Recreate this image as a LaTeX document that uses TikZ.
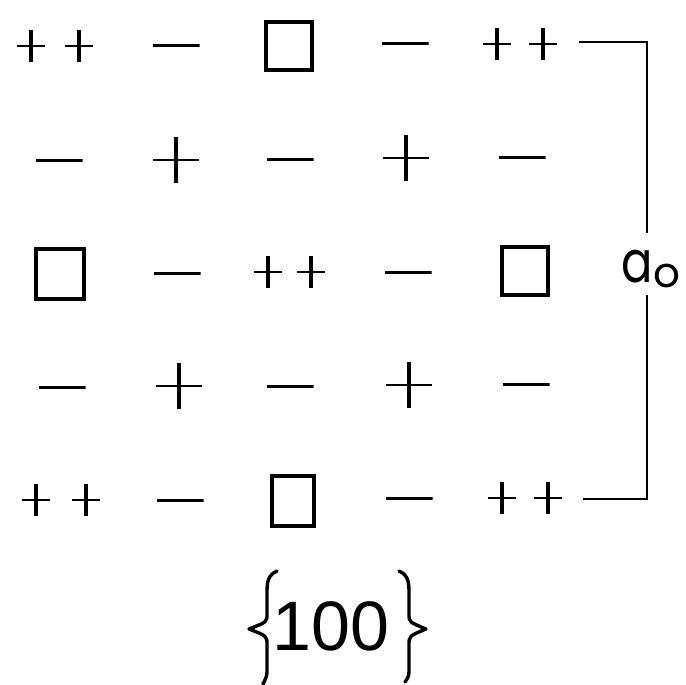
\documentclass[tikz,border=0pt]{standalone}
\usepackage{fontspec}
\setmainfont{Liberation Sans}
\newfontfamily\afont{Poppins}
\begin{document}
\begin{tikzpicture}[x=1pt,y=-1pt,
  plusnode/.style={minimum width=28pt,minimum height=32pt,inner sep=0pt,
    path picture={\draw[line width=4pt] (path picture bounding box.north) -- (path picture bounding box.south);
                  \draw[line width=2.6pt] (path picture bounding box.west) -- (path picture bounding box.east);}},
  bigplus/.style={plusnode,minimum width=46pt,minimum height=46pt},
  minusnode/.style={minimum width=47pt,minimum height=4pt,inner sep=0pt,
    path picture={\draw[line width=3pt] (path picture bounding box.west) -- (path picture bounding box.east);}},
  sqnode/.style={draw,line width=3.4pt,minimum width=46pt,minimum height=48pt,inner sep=0pt},
  lbl/.style={inner sep=0pt},
  brace/.style={line width=3.4pt,line cap=round,line join=round}]
\useasboundingbox (0,0) rectangle (686,685);
% row 1
\node[plusnode] (p11a) at (31,46) {};
\node[plusnode] (p11b) at (79,46) {};
\node[minusnode] (m12) at (176,46) {};
\node[sqnode] (s13) at (289,46) {};
\node[minusnode] (m14) at (405,44) {};
\node[plusnode] (p15a) at (497,44) {};
\node[plusnode] (p15b) at (543,44) {};
% row 2
\node[minusnode] (m21) at (59,160) {};
\node[bigplus] (p22) at (176,160) {};
\node[minusnode] (m23) at (290,159) {};
\node[bigplus] (p24) at (406,158) {};
\node[minusnode] (m25) at (522,157) {};
% row 3
\node[sqnode,minimum width=48pt,minimum height=50pt] (s31) at (60,274) {};
\node[minusnode] (m32) at (177,273) {};
\node[plusnode] (p33a) at (268,272) {};
\node[plusnode] (p33b) at (311,272) {};
\node[minusnode] (m34) at (408,272) {};
\node[sqnode] (s35) at (525,271) {};
% row 4
\node[minusnode] (m41) at (62,387) {};
\node[bigplus] (p42) at (179,386) {};
\node[minusnode] (m43) at (290,386) {};
\node[bigplus] (p44) at (409,385) {};
\node[minusnode] (m45) at (526,384) {};
% row 5
\node[plusnode] (p51a) at (36,500) {};
\node[plusnode] (p51b) at (86,500) {};
\node[minusnode] (m52) at (180,500) {};
\node[sqnode,minimum width=42pt,minimum height=50pt] (s53) at (293,501) {};
\node[minusnode] (m54) at (409,498) {};
\node[plusnode] (p55a) at (502,498) {};
\node[plusnode] (p55b) at (548,498) {};
% lattice constant
\node[lbl,font=\fontsize{58}{58}\selectfont] (a0) at (651,269) {\scalebox{0.8}[1]{\afont a}\raisebox{-5pt}{\fontsize{42}{42}\selectfont\afont o}};
\coordinate (t1) at (579,42);
\coordinate (t2) at (647,42);
\coordinate (b1) at (583,499);
\coordinate (b2) at (647,499);
\draw[line width=2.8pt] (t1) -- (t2) -- (647,233);
\draw[line width=2.8pt] (647,295) -- (b2) -- (b1);
% {100}
\node[lbl,font=\fontsize{70}{70}\selectfont] (miller) at (331,626) {100};
\draw[brace] (277,571) .. controls (268,575) and (267,582) .. (267,592) -- (267,614)
  .. controls (267,622) .. (249,629) .. controls (267,636) .. (267,645) -- (267,668)
  .. controls (267,676) .. (263,684);
\draw[brace] (399,571) .. controls (408,575) and (409,582) .. (409,592) -- (409,614)
  .. controls (409,622) .. (426,629) .. controls (409,636) .. (409,645) -- (409,668)
  .. controls (409,676) .. (405,682);
\end{tikzpicture}
\end{document}
